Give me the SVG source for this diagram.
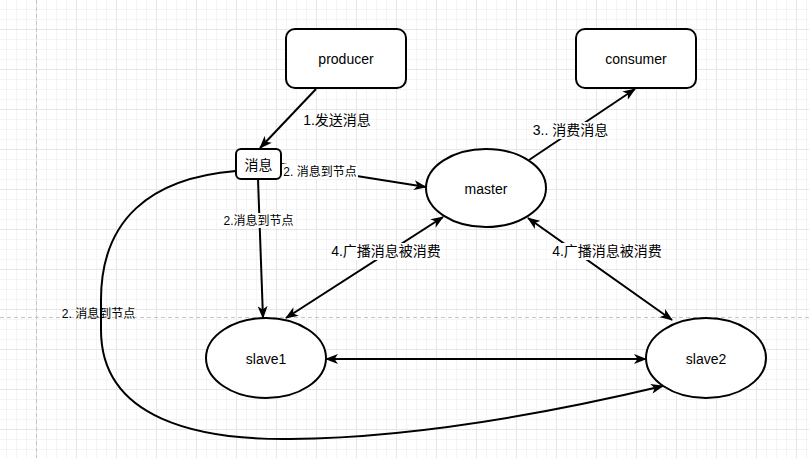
<svg xmlns="http://www.w3.org/2000/svg" width="809" height="458" viewBox="0 0 809 458">
<defs>
<pattern id="grid" patternUnits="userSpaceOnUse" x="36" y="29" width="40" height="40">
<rect width="40" height="40" fill="#ffffff"/>
<path d="M10.5,0V40M20.5,0V40M30.5,0V40M0,10.5H40M0,20.5H40M0,30.5H40" stroke="#f4f4f4" stroke-width="1" fill="none"/>
<path d="M0.5,0V40M0,0.5H40" stroke="#e6e6e6" stroke-width="1" fill="none"/>
</pattern>
<marker id="arr" markerUnits="userSpaceOnUse" viewBox="0 0 13 10" refX="12" refY="5" markerWidth="13" markerHeight="10" orient="auto-start-reverse">
<path d="M0,0 L13,5 L0,10 L3.5,5 z" fill="#000"/>
</marker>
<style>
.node{fill:#fff;stroke:#000;stroke-width:2}
.edge{fill:none;stroke:#000;stroke-width:2}
.t{font-family:"Liberation Sans",Arial,"Noto Sans CJK SC",sans-serif;fill:#000;text-anchor:middle}
.nt{font-size:14px}
.l14{font-size:14px}
.l12{font-size:12px}
.bg{fill:#fff}
</style>
</defs>
<rect width="809" height="458" fill="url(#grid)"/>
<line x1="36.5" y1="0" x2="36.5" y2="458" stroke="#c4c4c4" stroke-dasharray="4,3"/>
<line x1="0" y1="317.5" x2="809" y2="317.5" stroke="#c4c4c4" stroke-dasharray="4,3"/>

<g id="connectors">
<path class="edge" d="M316,89 L260,148" marker-end="url(#arr)"/>
<path class="edge" d="M281,164 L426,187" marker-end="url(#arr)"/>
<path class="edge" d="M258,179 L263,318" marker-end="url(#arr)"/>
<path class="edge" d="M443,217 L286,318" marker-start="url(#arr)" marker-end="url(#arr)"/>
<path class="edge" d="M528,218 L672,320" marker-start="url(#arr)" marker-end="url(#arr)"/>
<path class="edge" d="M326,359 L646,359" marker-start="url(#arr)" marker-end="url(#arr)"/>
<path class="edge" d="M529,160 L635,89" marker-end="url(#arr)"/>
<path class="edge" d="M236,171 C150,178 101,220 101,300 L101,330 C101,420 200,440 290,439 C400,438 520,420 663,386" marker-end="url(#arr)"/>
<rect class="bg" x="282" y="164" width="76" height="15"/>
<text class="t l12" x="320" y="176">2. 消息到节点</text>
<rect class="bg" x="222" y="213" width="73" height="15"/>
<text class="t l12" x="258.5" y="225">2.消息到节点</text>
<rect class="bg" x="331" y="243" width="110" height="17"/>
<text class="t l14" x="386" y="256">4.广播消息被消费</text>
<rect class="bg" x="551" y="243" width="112" height="17"/>
<text class="t l14" x="607" y="256">4.广播消息被消费</text>
<rect class="bg" x="532" y="122" width="77" height="17"/>
<text class="t l14" x="570.5" y="135">3.. 消费消息</text>
<text class="t l14" x="337" y="125">1.发送消息</text>
<text class="t l12" x="98.5" y="318">2. 消息到节点</text>
</g>

<g id="producer">
<rect class="node" x="286" y="29" width="120" height="59" rx="9"/>
<text class="t nt" x="346" y="64">producer</text>
</g>
<g id="consumer">
<rect class="node" x="576" y="29" width="120" height="59" rx="9"/>
<text class="t nt" x="636" y="64">consumer</text>
</g>
<g id="message">
<rect class="node" x="236" y="149" width="45" height="30" rx="5"/>
<text class="t l14" x="258.5" y="170">消息</text>
</g>
<g id="master">
<ellipse class="node" cx="486" cy="188" rx="60" ry="39"/>
<text class="t nt" x="486" y="194">master</text>
</g>
<g id="slave1">
<ellipse class="node" cx="266" cy="358" rx="60" ry="40"/>
<text class="t nt" x="266" y="364">slave1</text>
</g>
<g id="slave2">
<ellipse class="node" cx="706" cy="358" rx="60" ry="40"/>
<text class="t nt" x="706" y="364">slave2</text>
</g>
</svg>
